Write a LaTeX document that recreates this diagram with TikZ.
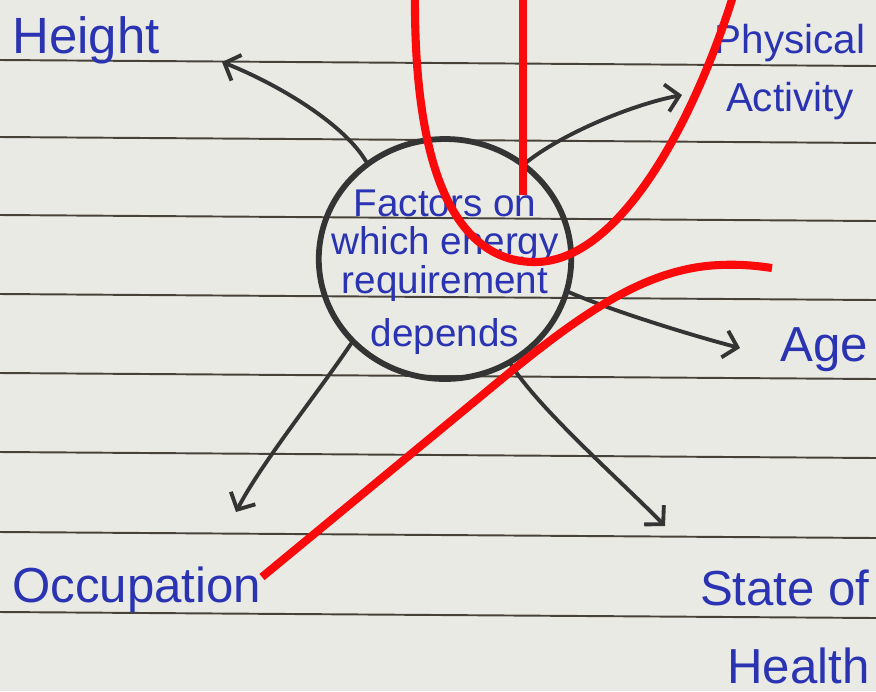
\documentclass[tikz,border=0pt]{standalone}
\usepackage{fontspec}
\setmainfont{Liberation Sans}
\usetikzlibrary{arrows.meta, shapes.geometric}
\definecolor{paper}{RGB}{234, 234, 229}
\definecolor{ruling}{RGB}{70, 66, 56}
\definecolor{inkblue}{RGB}{42, 52, 178}
\definecolor{pencil}{RGB}{52, 52, 52}
\definecolor{markred}{RGB}{250, 10, 10}

\begin{document}
\begin{tikzpicture}[x=0.02cm, y=-0.02cm,
  lbl/.style={text=inkblue, inner sep=0pt, font=\fontsize{28}{32}\selectfont},
  spoke/.style={-{Straight Barb[length=2.6mm, width=5.5mm]}, line width=2.2pt, pencil, line cap=round},
  redmark/.style={markred, line width=4.6pt}
]
  % Paper and ruled lines
  \fill[paper] (0,0) rectangle (876,691);
  \useasboundingbox (0,0) rectangle (876,691);
  \clip (0,0) rectangle (876,691);
  \foreach \yy in {60,137,215,294,373,452,532,612}
    \draw[ruling, line width=1.1pt] (0,\yy) -- (876,\yy+6);

  % Centre circle
  \node[ellipse, draw=pencil, line width=3.3pt, minimum width=5.05cm, minimum height=4.8cm] (hub) at (445,259) {};
  \node[text=inkblue, align=center, inner sep=0pt, font=\fontsize{22}{22}\selectfont] (hubtext) at (445,272) {Factors on\\which energy\\requirement\\[8pt]depends};

  % Factors
  \node[lbl, anchor=base west, font=\fontsize{29}{32}\selectfont] (hgt) at (12,53) {Height};
  \node[lbl, align=center, font=\fontsize{23}{33}\selectfont] (phys) at (790,72) {Physical\\Activity};
  \node[lbl, anchor=base west] (age) at (780,361) {Age};
  \node[lbl, anchor=base west] (occ) at (12,602) {Occupation};
  \node[lbl, align=right, anchor=east, font=\fontsize{28}{44}\selectfont] (hlth) at (870,627) {State of\\Health};

  % Arrow tips
  \coordinate (hgtend) at (222,62);
  \coordinate (physend) at (682,95);
  \coordinate (ageend) at (740,348);
  \coordinate (occend) at (236,512);
  \coordinate (hlthend) at (665,526);

  \draw[spoke] (hub.129) .. controls (345,125) and (280,85) .. (hgtend);
  \draw[spoke] (hub.50) .. controls (560,135) and (630,105) .. (physend);
  \draw[spoke] (hub.-15) .. controls (610,310) and (690,335) .. (ageend);
  \draw[spoke] (hub.222) .. controls (320,390) and (260,465) .. (occend);
  \draw[spoke] (hub.-58) .. controls (540,410) and (620,480) .. (hlthend);

  % Red marks
  \draw[redmark] (523,-10) -- (523,195);
  \draw[redmark] (415,-10) .. controls (413,180) and (460,262) .. (535,262) .. controls (620,262) and (695,120) .. (735,-10);
  \draw[redmark] (262,577) -- (480,397) .. controls (570,322) and (640,268) .. (720,265) .. controls (742,264) and (758,266) .. (772,268);
\end{tikzpicture}
\end{document}
